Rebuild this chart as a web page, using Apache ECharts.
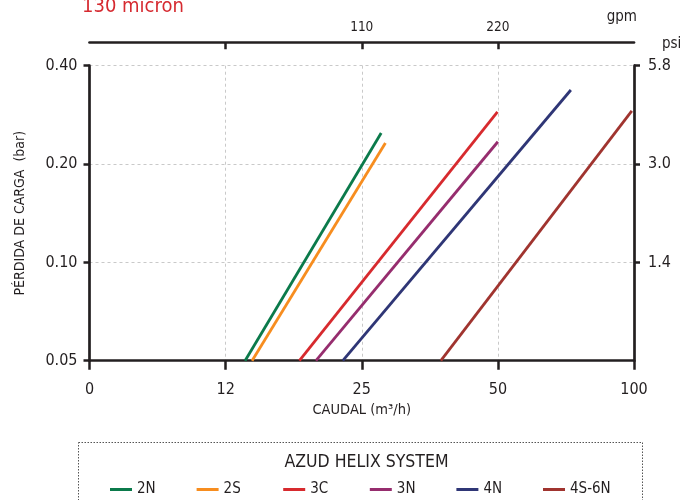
<!DOCTYPE html>
<html><head><meta charset="utf-8">
<script src="https://cdn.jsdelivr.net/npm/echarts@6/dist/echarts.min.js"></script>
<style>html,body{margin:0;padding:0;background:#fff}#c{width:686px;height:500px}</style>
</head><body><div id="c"></div>
<script>
// ---- data ----
const seriesNames = ['2N', '2S', '3C', '3N', '4N', '4S-6N'];
const seriesColors = ['#0b7a4b', '#f78d1f', '#d72a2e', '#962d6e', '#2f3676', '#a0342f'];
// [flow m3/h, pressure loss bar]
const line2N  = [[13.8, 0.05], [27.6, 0.249]];
const line2S  = [[14.3, 0.05], [28.2, 0.232]];
const line3C  = [[18.2, 0.05], [49.9, 0.289]];
const line3N  = [[19.8, 0.05], [50.0, 0.234]];
const line4N  = [[22.7, 0.05], [72.5, 0.337]];
const line4S6N = [[37.4, 0.05], [98.9, 0.291]];
const seriesData = [line2N, line2S, line3C, line3N, line4N, line4S6N];

const xTickValues = [6.25, 12.5, 25, 50, 100];
const xTickLabels = ['0', '12', '25', '50', '100'];
const gpmTickLabels = ['', '', '110', '220', ''];
const yTickValues = [0.05, 0.1, 0.2, 0.4];
const yTickLabels = ['0.05', '0.10', '0.20', '0.40'];
const psiTickLabels = ['', '1.4', '3.0', '5.8'];

// ---- style ----
const FONT = "'Liberation Sans Narrow','DejaVu Sans Condensed','Liberation Sans',sans-serif";
const INK = '#231f20';
const GRID_LINE = {show: true, lineStyle: {type: [3, 3], color: '#c9c9c9', width: 1}};
const AX_LINE = {show: true, onZero: false, lineStyle: {color: INK, width: 2.7}};
const LEGEND_LEFT = 105, LEGEND_STEP = 86.6;

const xSteps = xTickValues.length - 1;
const ySteps = yTickValues.length - 1;

const chart = echarts.init(document.getElementById('c'), null, {renderer: 'canvas'});
chart.setOption({
  animation: false,
  grid: {left: 89.5, right: 52, top: 65.7, bottom: 139.3, outerBoundsMode: 'none'},
  xAxis: [
    { // data scale (log)
      type: 'log', logBase: 2, min: xTickValues[0], max: xTickValues[xSteps],
      position: 'bottom', show: false
    },
    { // bottom display axis
      type: 'value', position: 'bottom', min: 0, max: xSteps, interval: 1,
      axisLine: AX_LINE,
      axisTick: {show: true, length: 9, lineStyle: {color: INK, width: 2.5}},
      axisLabel: {margin: 21, color: INK, fontSize: 16, fontFamily: FONT,
        formatter: v => xTickLabels[Math.round(v)]},
      splitLine: GRID_LINE,
      name: 'CAUDAL (m³/h)', nameLocation: 'middle', nameGap: 42,
      nameTextStyle: {color: INK, fontSize: 14.5, fontFamily: FONT}
    },
    { // top gpm axis
      type: 'value', position: 'top', offset: 23.4, min: 0, max: xSteps, interval: 1,
      axisLine: AX_LINE,
      axisTick: {show: true, inside: true, length: 7, customValues: [1, 2, 3],
        lineStyle: {color: INK, width: 2.5}},
      axisLabel: {margin: 8, color: INK, fontSize: 13.5, fontFamily: FONT, customValues: [2, 3],
        formatter: v => gpmTickLabels[Math.round(v)]},
      splitLine: {show: false}
    }
  ],
  yAxis: [
    { // data scale (log)
      type: 'log', logBase: 2, min: yTickValues[0], max: yTickValues[ySteps],
      position: 'left', show: false
    },
    { // left bar axis
      type: 'value', position: 'left', min: 0, max: ySteps, interval: 1,
      axisLine: AX_LINE,
      axisTick: {show: true, length: 6, lineStyle: {color: INK, width: 2.5}},
      axisLabel: {margin: 12, color: INK, fontSize: 16, fontFamily: FONT,
        formatter: v => yTickLabels[Math.round(v)]},
      splitLine: GRID_LINE,
      name: 'PÉRDIDA DE CARGA  (bar)', nameLocation: 'middle', nameGap: 62,
      nameTextStyle: {color: INK, fontSize: 14, fontFamily: FONT}
    },
    { // right psi axis
      type: 'value', position: 'right', min: 0, max: ySteps, interval: 1,
      axisLine: AX_LINE,
      axisTick: {show: true, length: 6, customValues: [1, 2, 3], lineStyle: {color: INK, width: 2.5}},
      axisLabel: {margin: 14, color: INK, fontSize: 16, fontFamily: FONT, customValues: [1, 2, 3],
        formatter: v => psiTickLabels[Math.round(v)]},
      splitLine: {show: false}
    }
  ],
  legend: seriesNames.map((n, i) => ({
    left: LEGEND_LEFT + i * LEGEND_STEP, top: 477, icon: 'rect', itemWidth: 22, itemHeight: 3,
    textStyle: {color: INK, fontSize: 15, fontFamily: FONT},
    data: [n], selectedMode: false
  })),
  graphic: [
    {type: 'text', x: 82, y: 16.5, silent: true,
      style: {text: '130 micron', fill: '#d62a30', fontSize: 20, fontFamily: FONT, verticalAlign: 'bottom'}},
    {type: 'text', x: 637, y: 17, silent: true,
      style: {text: 'gpm', fill: INK, fontSize: 15, fontFamily: FONT, align: 'right', verticalAlign: 'middle'}},
    {type: 'text', x: 662, y: 44, silent: true,
      style: {text: 'psi', fill: INK, fontSize: 15, fontFamily: FONT, align: 'left', verticalAlign: 'middle'}},
    {type: 'text', x: 366.5, y: 462, silent: true,
      style: {text: 'AZUD HELIX SYSTEM', fill: INK, fontSize: 17.5, fontFamily: FONT, align: 'center', verticalAlign: 'middle'}},
    {type: 'rect', silent: true, shape: {x: 78.5, y: 442.5, width: 564, height: 80},
      style: {fill: 'none', stroke: '#555', lineWidth: 1, lineDash: [1.5, 1.5]}}
  ],
  series: seriesNames.map((n, i) => ({
    type: 'line', name: n, xAxisIndex: 0, yAxisIndex: 0,
    data: seriesData[i], symbol: 'none', silent: true,
    color: seriesColors[i],
    lineStyle: {width: 2.8, color: seriesColors[i]},
    itemStyle: {color: seriesColors[i]}
  }))
});
</script>
</body></html>
